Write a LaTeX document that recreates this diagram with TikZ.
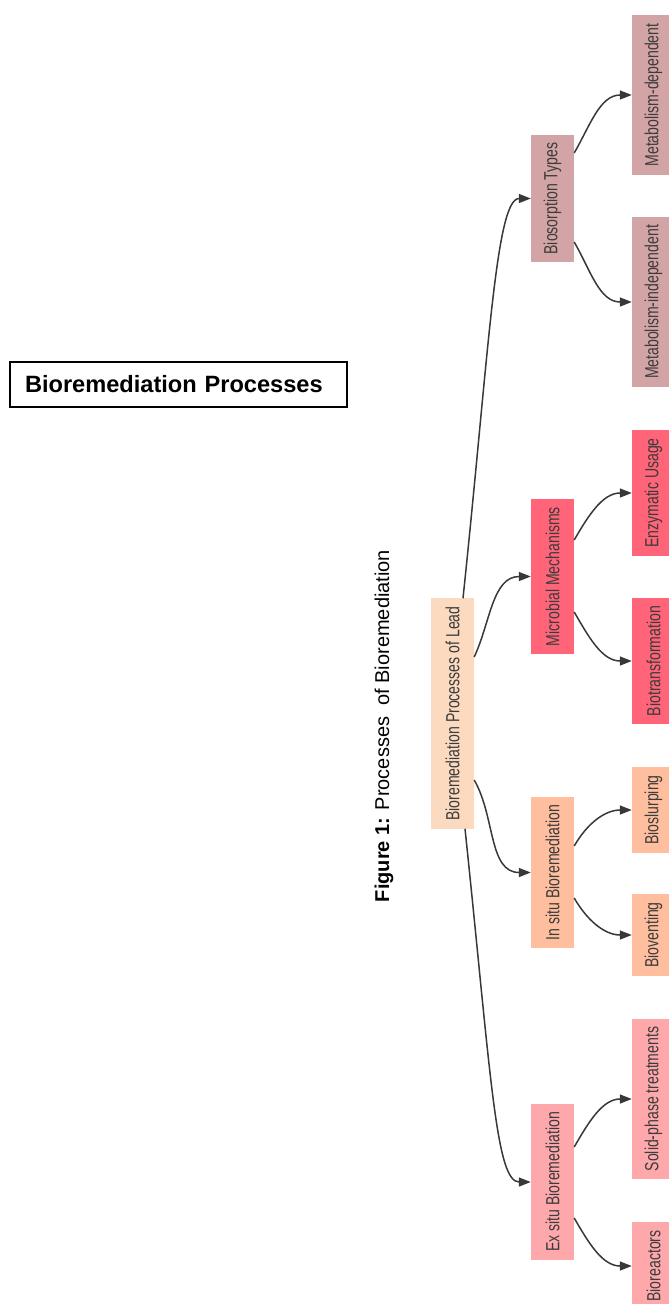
\documentclass[tikz,border=0pt]{standalone}
\usepackage{fontspec}
\usepackage{graphicx}
\setmainfont{Liberation Sans}
\newfontfamily\narrowfont[FakeStretch=0.74]{Liberation Sans}
\usetikzlibrary{arrows.meta}
\definecolor{leadfill}{HTML}{FBDAC0}
\definecolor{sorpfill}{HTML}{D3A4A5}
\definecolor{microfill}{HTML}{FF6479}
\definecolor{insitufill}{HTML}{FFBF9F}
\definecolor{exsitufill}{HTML}{FFA8AC}
\definecolor{boxtext}{HTML}{3C3C3C}
\definecolor{edgegray}{HTML}{383838}
\newcommand{\vlabel}[1]{\rotatebox{90}{#1}}
\tikzset{
  box/.style={fill=#1, minimum width=43pt, inner xsep=0pt, inner ysep=8pt,
    text=boxtext, font=\narrowfont\fontsize{19}{22}\selectfont},
  edge/.style={draw=edgegray, line width=1.5pt, -{Triangle[length=12pt,width=9pt]}}
}
\begin{document}
\begin{tikzpicture}[x=1pt, y=1pt]
  \useasboundingbox (0,0) rectangle (669,-1304);
  \node[draw, line width=1.5pt, minimum width=337pt, minimum height=45pt, inner xsep=15pt,
    text width=307pt, align=left, font=\bfseries\fontsize{23.6}{28}\selectfont]
    (title) at (178.5,-384.5) {Bioremediation Processes};
  \node[rotate=90, font=\fontsize{20}{24}\selectfont] (caption) at (384,-726)
    {\textbf{Figure 1:} Processes\ \ of Bioremediation};
  \begin{scope}
    \node[box=leadfill] (lead) at (452.5,-713.5) {\vlabel{Bioremediation Processes of Lead}};
    \node[box=sorpfill] (sorp) at (552.5,-198.5) {\vlabel{Biosorption Types}};
    \node[box=microfill] (micro) at (552.5,-576.5) {\vlabel{Microbial Mechanisms}};
    \node[box=insitufill] (insitu) at (552.5,-872.5) {\vlabel{In situ Bioremediation}};
    \node[box=exsitufill] (exsitu) at (552.5,-1182) {\vlabel{Ex situ Bioremediation}};
    \node[box=sorpfill] (metdep) at (653.5,-95) {\vlabel{Metabolism-dependent}};
    \node[box=sorpfill] (metindep) at (653.5,-302) {\vlabel{Metabolism-independent}};
    \node[box=microfill] (enzyme) at (653.5,-493) {\vlabel{Enzymatic Usage}};
    \node[box=microfill] (biotrans) at (653.5,-661) {\vlabel{Biotransformation}};
    \node[box=insitufill] (slurp) at (653.5,-810) {\vlabel{Bioslurping}};
    \node[box=insitufill] (vent) at (653.5,-935) {\vlabel{Bioventing}};
    \node[box=exsitufill] (solid) at (653.5,-1099) {\vlabel{Solid-phase treatments}};
    \node[box=exsitufill] (reactor) at (653.5,-1266) {\vlabel{Bioreactors}};
  \end{scope}
  \draw[edge] ([xshift=10.5pt]lead.north) to[out=84, in=180, out distance=250pt, in distance=35pt] (sorp.west);
  \draw[edge] ([yshift=56.5pt]lead.east) to[out=65, in=180] (micro.west);
  \draw[edge] ([yshift=-66.5pt]lead.east) to[out=-60, in=180] (insitu.west);
  \draw[edge] ([xshift=12.5pt]lead.south) to[out=-84, in=180, out distance=250pt, in distance=35pt] (exsitu.west);
  \foreach \p/\c/\s/\a in {sorp/metdep/45.5/60, sorp/metindep/-43.5/-60,
      micro/enzyme/36.5/60, micro/biotrans/-35.5/-60, insitu/slurp/26.5/60,
      insitu/vent/-25.5/-60, exsitu/solid/35/60, exsitu/reactor/-36/-60}
    \draw[edge] ([yshift=\s pt]\p.east) to[out=\a, in=180] (\c.west);
\end{tikzpicture}
\end{document}
